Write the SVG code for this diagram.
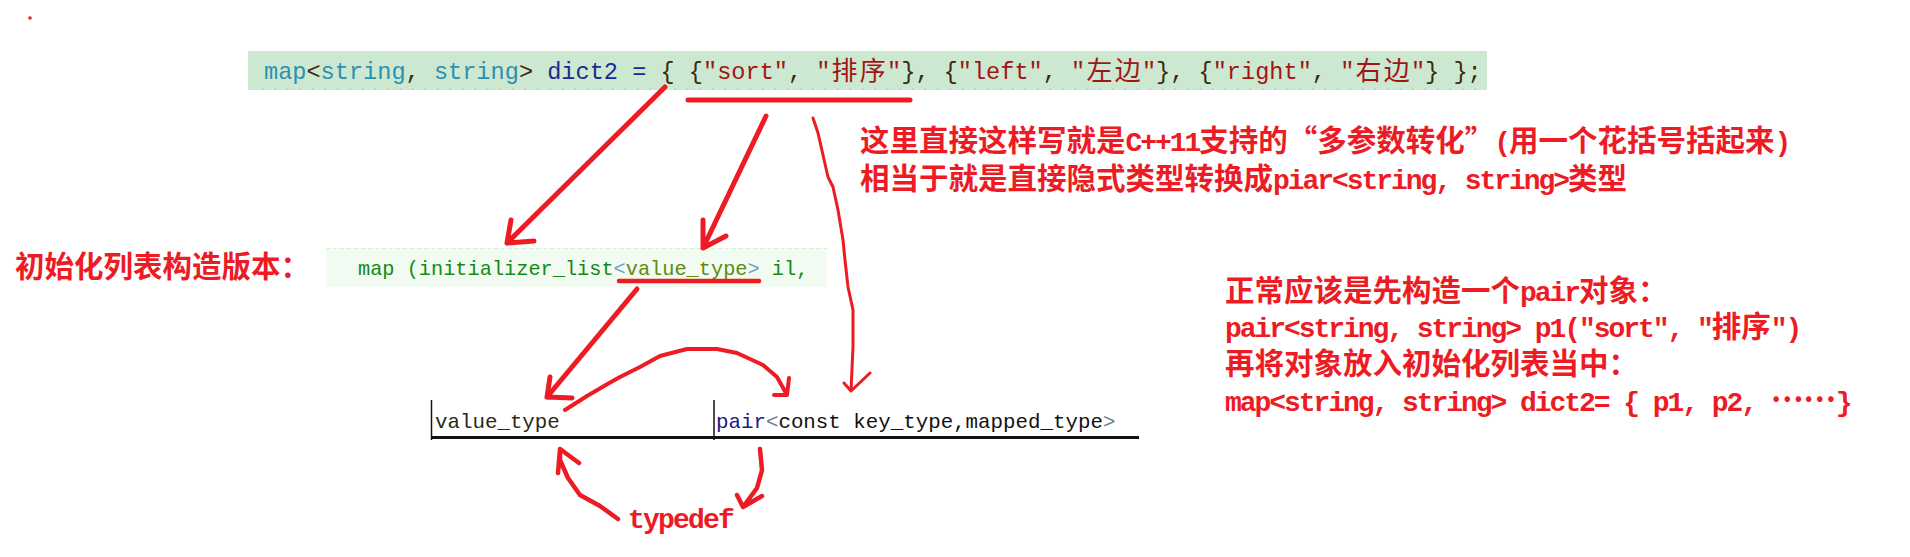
<svg xmlns="http://www.w3.org/2000/svg" width="1910" height="557" viewBox="0 0 1910 557">
<style>
.code{font-family:"Liberation Mono","Noto Sans CJK SC",monospace;}
.cjk{font-family:"Noto Sans CJK SC","Noto Sans CJK JP",sans-serif;}
.teal{fill:#2b91af}
.navy{fill:#1b2a8f}
.dk{fill:#3a2a10}
.str{fill:#a31515}
.grn{fill:#148a14}
.ang{fill:#6aa0c8}
.note{font-family:"Noto Sans CJK SC","Noto Sans CJK JP",sans-serif;font-weight:bold;fill:#ed1c24;font-size:29.5px}
.lat{font-family:"Liberation Mono",monospace;font-weight:bold;font-size:28px;letter-spacing:-2.05px}
.ink{fill:none;stroke:#ed1c24;stroke-linecap:round;stroke-linejoin:round}
</style>
<rect width="1910" height="557" fill="#ffffff"/>
<circle cx="30" cy="18" r="1.8" fill="#ed1c24"/>

<g id="code-dict2">
<rect x="248" y="51" width="1239" height="39" fill="#cde8d1"/>
<line x1="262" y1="89" x2="1480" y2="89" stroke="#7d9a7d" stroke-width="1.2" stroke-dasharray="1.5 11" opacity="0.6"/>
<text class="code" y="79" font-size="23.6">
<tspan x="264" class="teal">map</tspan><tspan x="306.5" class="dk">&lt;</tspan><tspan x="320.6" class="teal">string</tspan><tspan x="405.6" class="dk">,</tspan><tspan x="433.9" class="teal">string</tspan><tspan x="518.9" class="dk">&gt;</tspan><tspan x="547.2" class="navy">dict2</tspan><tspan x="632.2" class="navy">=</tspan><tspan x="660.5" class="dk">{</tspan><tspan x="688.8" class="dk">{</tspan><tspan x="703" class="str">"sort"</tspan><tspan x="787.9" class="dk">,</tspan><tspan x="816.2" class="str">"</tspan><tspan x="887" class="str">"</tspan><tspan x="901.2" class="dk">}</tspan><tspan x="915.4" class="dk">,</tspan><tspan x="943.7" class="dk">{</tspan><tspan x="957.8" class="str">"left"</tspan><tspan x="1042.8" class="dk">,</tspan><tspan x="1071.1" class="str">"</tspan><tspan x="1141.9" class="str">"</tspan><tspan x="1156.1" class="dk">}</tspan><tspan x="1170.2" class="dk">,</tspan><tspan x="1198.6" class="dk">{</tspan><tspan x="1212.7" class="str">"right"</tspan><tspan x="1311.8" class="dk">,</tspan><tspan x="1340.2" class="str">"</tspan><tspan x="1410.9" class="str">"</tspan><tspan x="1425.1" class="dk">}</tspan><tspan x="1453.4" class="dk">}</tspan><tspan x="1467.6" class="dk">;</tspan>
</text>
<text class="cjk str" y="80" font-size="26"><tspan x="831.5">排</tspan><tspan x="859.8">序</tspan><tspan x="1086.4">左</tspan><tspan x="1114.7">边</tspan><tspan x="1355.4">右</tspan><tspan x="1383.7">边</tspan></text>
</g>

<g id="note-multi-param">
<text class="note" x="860" y="151">这里直接这样写就是<tspan class="lat">C++11</tspan>支持的“多参数转化”<tspan class="lat">(</tspan>用一个花括号括起来<tspan class="lat">)</tspan></text>
<text class="note" x="860" y="189">相当于就是直接隐式类型转换成<tspan class="lat">piar&lt;string, string&gt;</tspan>类型</text>
</g>

<g id="label-init-list">
<text class="note" x="15" y="277">初始化列表构造版本：</text>
</g>

<g id="code-init-list">
<rect x="326" y="248" width="501" height="39" fill="#f1fbf1"/>
<line x1="326" y1="248.5" x2="827" y2="248.5" stroke="#d6ecd6" stroke-width="1" stroke-dasharray="4 3"/>
<text class="code" x="358" y="275" font-size="20.3"><tspan class="grn">map (initializer_list</tspan><tspan class="ang">&lt;</tspan><tspan fill="#5f8a10">value_type</tspan><tspan class="ang">&gt;</tspan><tspan class="grn"> il,</tspan></text>
</g>

<g id="typedef-table">
<line x1="431.5" y1="400" x2="431.5" y2="440" stroke="#111" stroke-width="1.5"/>
<line x1="714" y1="400" x2="714" y2="440" stroke="#111" stroke-width="1.5"/>
<line x1="431" y1="437.5" x2="1139" y2="437.5" stroke="#111" stroke-width="3"/>
<text class="code" x="435" y="428" font-size="20.8" fill="#2a2a10">value_type</text>
<text class="code" x="716" y="428" font-size="20.8" fill="#111"><tspan fill="#1a1a8c">pair</tspan><tspan fill="#6a7a90">&lt;</tspan>const key_type,mapped_type<tspan fill="#6a7a90">&gt;</tspan></text>
</g>

<g id="label-typedef">
<text class="lat" x="628" y="528" fill="#ed1c24" style="letter-spacing:-1.8px">typedef</text>
</g>

<g id="note-pair">
<text class="note" x="1225" y="301">正常应该是先构造一个<tspan class="lat">pair</tspan>对象：</text>
<text class="note" x="1225" y="337"><tspan class="lat">pair&lt;string, string&gt; p1("sort", "</tspan>排序<tspan class="lat">")</tspan></text>
<text class="note" x="1225" y="374">再将对象放入初始化列表当中：</text>
<text class="note" x="1225" y="411"><tspan class="lat">map&lt;string, string&gt; dict2= { p1, p2, </tspan><tspan dy="-9">……</tspan><tspan class="lat" dy="9">}</tspan></text>
</g>

<g id="connectors">
<path class="ink" stroke-width="5" d="M688,100 L910,100"/>
<path class="ink" stroke-width="5" d="M665,87 L507,243 M511,220 L507,243 L534,241"/>
<path class="ink" stroke-width="5" d="M766,116 L703,248 M703,220 L703,248 L726,236"/>
<path class="ink" stroke-width="3" d="M813,118 L818,133 L828,177 L833,187 L838,210 L843,240 L845,260 L848,287 L853,310 L853,347 L851,391 M844,383 L851,391 L870,373"/>
<path class="ink" stroke-width="4.5" d="M619,281 L759,281"/>
<path class="ink" stroke-width="5" d="M637,289 L547,397 M550,377 L547,397 L572,398"/>
<path class="ink" stroke-width="4" d="M565,410 L587,396 L611,382 L620,377 L640,367 L660,356 L687,349 L717,349 L737,353 L763,365 L777,377 L787,395 M789,378 L787,395 L774,395"/>
<path class="ink" stroke-width="4.5" d="M618,519 L600,506 L580,495 L568,478 L560,460 L560,449 M558,473 L560,449 L579,463"/>
<path class="ink" stroke-width="4.5" d="M760,449 L762,470 L757,488 L743,507 M737,495 L743,507 L762,496"/>
</g>
</svg>
